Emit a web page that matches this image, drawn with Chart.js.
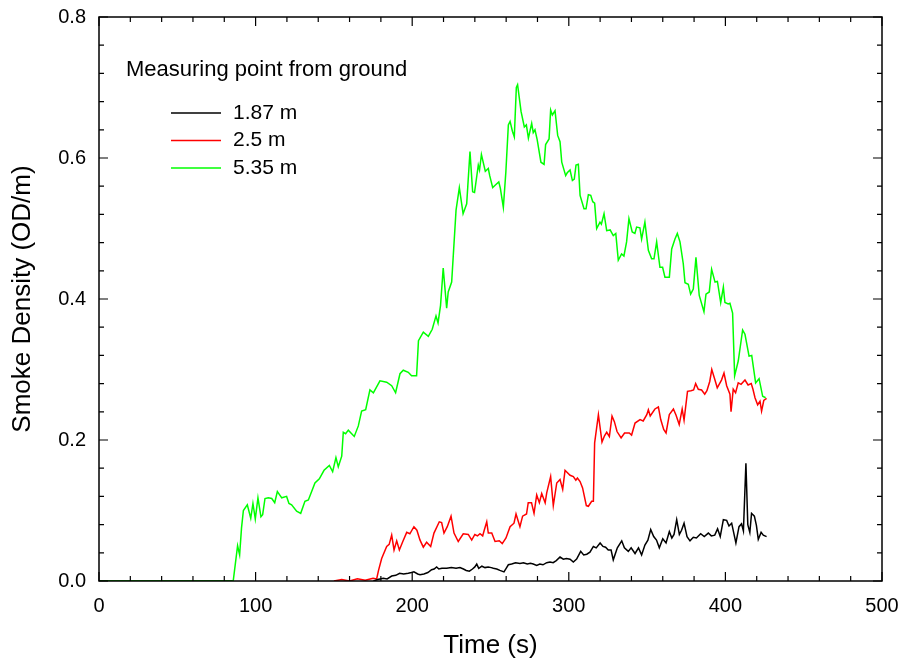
<!DOCTYPE html>
<html>
<head>
<meta charset="utf-8">
<script src="https://cdn.jsdelivr.net/npm/chart.js@4.4.1/dist/chart.umd.min.js"></script>
<style>
  html, body { margin: 0; padding: 0; background: #fff; }
  #wrap { width: 904px; height: 666px; }
</style>
</head>
<body>
<div id="wrap"><canvas id="smoke"></canvas></div>
<script>
// Smoke density readings, time in seconds
// 5.35 m sensor
const greenTime = [0, 85.7, 88.5, 89.8, 91, 92.2, 94.7, 96.9, 98.3, 99.8, 101.5, 103.4, 104.5, 106, 108.1, 110.3, 112.2, 113.9, 116.7, 119.8, 121.3, 123, 126.2, 128.8, 131.5, 133.7, 137.9, 140.7, 143.7, 147.1, 149.2, 151.3, 152.8, 155, 156, 157.5, 159.2, 163, 165.6, 167.7, 170.3, 173, 175.2, 179.4, 183.7, 186.9, 189.4, 192.2, 194.3, 197.5, 199.6, 202.8, 204, 207.1, 210.3, 212.8, 215.2, 216.5, 218.1, 219.8, 222, 223, 225.2, 228, 230.1, 232.5, 234.8, 235.5, 236.9, 238.6, 239.8, 242.2, 243, 244.2, 246.7, 248.6, 249.5, 251.4, 253.3, 255.3, 256.3, 258.2, 259.8, 261.4, 262.5, 264, 265.2, 266.5, 267.3, 269.5, 271.6, 272.9, 274.2, 276.3, 277.3, 278.4, 279.8, 282.2, 284.2, 285.2, 287.4, 288.4, 289.5, 291.2, 292.9, 294.4, 295.5, 298, 299, 300.8, 302.3, 303.5, 304.6, 306.1, 307.2, 309.7, 311, 312.5, 314, 315.3, 316.5, 317.8, 319.9, 320.8, 322.5, 324.2, 326.4, 328.4, 330, 331.6, 333.7, 335.2, 336.9, 338.4, 340.5, 342.2, 343.3, 345.4, 346.5, 348.6, 350.8, 352.9, 354.4, 356.1, 358.2, 359.9, 361.4, 364.2, 365.7, 367.8, 369.3, 371, 373.1, 374.2, 376.3, 377.8, 379.5, 381.2, 383.3, 386.3, 387.6, 389.7, 391.2, 393.4, 394.9, 397, 398.7, 399.7, 401.8, 402.9, 404.6, 405.9, 408.2, 411, 412.5, 415.1, 416.8, 419.3, 421.5, 423.8, 425.7];
const greenValue = [0, 0, 0.050, 0.037, 0.075, 0.100, 0.108, 0.089, 0.110, 0.088, 0.118, 0.091, 0.094, 0.117, 0.118, 0.117, 0.111, 0.127, 0.118, 0.120, 0.110, 0.108, 0.099, 0.096, 0.113, 0.115, 0.139, 0.145, 0.157, 0.164, 0.155, 0.175, 0.162, 0.177, 0.211, 0.209, 0.214, 0.205, 0.220, 0.241, 0.243, 0.271, 0.267, 0.284, 0.282, 0.277, 0.267, 0.294, 0.299, 0.296, 0.291, 0.291, 0.341, 0.353, 0.347, 0.357, 0.376, 0.366, 0.391, 0.444, 0.387, 0.410, 0.424, 0.526, 0.558, 0.521, 0.535, 0.560, 0.609, 0.552, 0.551, 0.590, 0.583, 0.605, 0.581, 0.585, 0.575, 0.558, 0.562, 0.566, 0.557, 0.530, 0.580, 0.647, 0.652, 0.638, 0.630, 0.700, 0.704, 0.666, 0.644, 0.647, 0.628, 0.649, 0.636, 0.640, 0.626, 0.594, 0.591, 0.619, 0.627, 0.668, 0.661, 0.667, 0.632, 0.623, 0.594, 0.575, 0.579, 0.583, 0.568, 0.570, 0.590, 0.591, 0.547, 0.528, 0.528, 0.548, 0.547, 0.538, 0.536, 0.500, 0.509, 0.506, 0.521, 0.497, 0.498, 0.490, 0.493, 0.455, 0.464, 0.461, 0.481, 0.514, 0.495, 0.493, 0.502, 0.501, 0.485, 0.509, 0.469, 0.457, 0.457, 0.481, 0.445, 0.445, 0.431, 0.431, 0.471, 0.485, 0.493, 0.481, 0.450, 0.423, 0.421, 0.407, 0.414, 0.459, 0.405, 0.382, 0.407, 0.410, 0.442, 0.424, 0.425, 0.395, 0.417, 0.395, 0.393, 0.394, 0.380, 0.291, 0.312, 0.356, 0.350, 0.319, 0.320, 0.281, 0.287, 0.262, 0.260];

// 2.5 m sensor (no readings logged between ~86 s and 150 s)
const redTime = [0, 85.7, 86, 150, 155, 160, 165, 170, 175, 177.3, 178.5, 180.5, 183.7, 185.3, 186.9, 188.4, 190.1, 191.8, 194, 196.5, 198.5, 201.1, 203, 205, 207.1, 209.2, 211.8, 213.9, 217.3, 218.8, 220.3, 222.4, 224.8, 226.7, 229.4, 232.6, 235.8, 238, 240, 241.7, 243.3, 245, 246, 247.6, 248.6, 250.8, 252.9, 255.6, 257.5, 259.9, 262.5, 265, 266.3, 268.8, 270.5, 273, 274.1, 276.2, 277.8, 279.5, 281.2, 282.7, 284.9, 285.9, 288.4, 290.1, 292.3, 294.4, 296.1, 297.6, 300.8, 302.9, 304.5, 305.5, 307.2, 308.8, 311.2, 312.5, 314.6, 315.7, 316.5, 318.9, 321.2, 322.8, 324.2, 325.9, 327.6, 329.1, 330.8, 333.4, 335.6, 338.6, 340.1, 342.3, 345.5, 347.5, 349.8, 350.8, 352, 355, 357.2, 358.7, 360.6, 362.1, 364.2, 366.8, 368.5, 370.5, 372.4, 373.6, 375.8, 378, 379.7, 381, 382.7, 384.8, 386.8, 388.2, 390, 391.3, 393.1, 394.8, 397.5, 399.1, 400.8, 402.9, 403.6, 405, 406.5, 408.2, 410, 412.5, 414.5, 416.5, 417.6, 418.9, 420.6, 422.1, 423.1, 424.5, 426.3];
const redValue = [0, 0, null, 0, 0.002, 0, 0.003, 0.001, 0.004, 0.003, 0.015, 0.032, 0.049, 0.052, 0.065, 0.044, 0.057, 0.044, 0.056, 0.069, 0.067, 0.077, 0.072, 0.058, 0.048, 0.055, 0.049, 0.068, 0.084, 0.083, 0.068, 0.077, 0.092, 0.068, 0.056, 0.067, 0.066, 0.058, 0.066, 0.064, 0.067, 0.064, 0.072, 0.084, 0.068, 0.068, 0.056, 0.057, 0.053, 0.061, 0.077, 0.082, 0.095, 0.077, 0.092, 0.095, 0.111, 0.111, 0.096, 0.122, 0.111, 0.124, 0.111, 0.125, 0.148, 0.107, 0.139, 0.144, 0.130, 0.157, 0.150, 0.148, 0.143, 0.146, 0.141, 0.132, 0.107, 0.106, 0.113, 0.113, 0.196, 0.236, 0.197, 0.206, 0.211, 0.205, 0.234, 0.226, 0.212, 0.203, 0.210, 0.210, 0.207, 0.224, 0.229, 0.227, 0.236, 0.243, 0.234, 0.244, 0.247, 0.229, 0.215, 0.210, 0.236, 0.244, 0.235, 0.222, 0.244, 0.228, 0.269, 0.270, 0.271, 0.280, 0.272, 0.271, 0.265, 0.270, 0.283, 0.300, 0.287, 0.274, 0.285, 0.295, 0.277, 0.265, 0.240, 0.272, 0.267, 0.281, 0.279, 0.285, 0.278, 0.280, 0.272, 0.260, 0.250, 0.255, 0.241, 0.256, 0.259];

// 1.87 m sensor (no readings logged between ~86 s and 175 s)
const blackTime = [0, 85.7, 86, 175.2, 178, 181.5, 184, 186.9, 189.5, 192, 194.5, 197.5, 199.5, 201.1, 203.5, 205, 207.5, 210, 212.4, 214, 215.6, 217, 219, 222, 225, 228, 230.5, 232.7, 234.5, 236.5, 238.5, 240, 241.2, 242.5, 244.5, 246.5, 248.5, 250.5, 251.8, 254, 256, 258.6, 260, 261.4, 263.5, 266, 268.8, 271, 273.5, 275.5, 277.3, 279.5, 281.5, 283.5, 285.9, 288, 290, 292, 294.4, 296.5, 298.5, 300.8, 302.9, 305, 307.6, 309.5, 311.5, 313.5, 315.7, 317.5, 320, 321.8, 323.5, 325.2, 327, 328.4, 331, 333.8, 335.5, 338, 339.8, 342.3, 344.5, 346.5, 348.6, 350.5, 352.3, 354.2, 356, 357.8, 360, 362.1, 364.2, 365.8, 367.2, 368.9, 370.6, 372, 373.6, 375.5, 377.4, 379.5, 381.5, 384.2, 386.5, 389.1, 391, 393.2, 395, 396.7, 398.7, 400.8, 402.3, 404, 406.7, 408.7, 410.3, 411.5, 413.1, 414.3, 415.6, 416.7, 418.5, 419.8, 421, 422.8, 424.2, 426.3];
const blackValue = [0, 0, null, 0, 0.002, 0.004, 0.003, 0.007, 0.008, 0.011, 0.010, 0.011, 0.012, 0.013, 0.010, 0.009, 0.010, 0.012, 0.016, 0.017, 0.020, 0.017, 0.018, 0.018, 0.019, 0.018, 0.019, 0.017, 0.015, 0.014, 0.017, 0.020, 0.024, 0.018, 0.021, 0.019, 0.020, 0.019, 0.018, 0.017, 0.015, 0.013, 0.018, 0.023, 0.024, 0.026, 0.025, 0.026, 0.024, 0.025, 0.024, 0.022, 0.024, 0.023, 0.026, 0.027, 0.026, 0.029, 0.034, 0.031, 0.032, 0.031, 0.027, 0.031, 0.042, 0.037, 0.038, 0.041, 0.049, 0.047, 0.054, 0.049, 0.048, 0.044, 0.044, 0.030, 0.047, 0.057, 0.047, 0.042, 0.047, 0.039, 0.047, 0.037, 0.051, 0.058, 0.073, 0.063, 0.058, 0.047, 0.060, 0.054, 0.070, 0.061, 0.066, 0.087, 0.066, 0.072, 0.082, 0.063, 0.057, 0.062, 0.061, 0.067, 0.063, 0.068, 0.064, 0.065, 0.074, 0.063, 0.087, 0.086, 0.078, 0.082, 0.054, 0.077, 0.081, 0.071, 0.167, 0.080, 0.069, 0.096, 0.092, 0.079, 0.059, 0.069, 0.065, 0.063];

const seriesLabels = ['1.87 m', '2.5 m', '5.35 m'];
const seriesColors = ['#000000', '#ff0000', '#00ff00'];
const legendTitle = 'Measuring point from ground';

const toPoints = (ts, vs) => ts.map((t, i) => ({ x: t, y: vs[i] }));

const FONT = 'Liberation Sans, Arial, sans-serif';

// frame with inward major/minor ticks on all four sides, plus the legend block
const framePlugin = {
  id: 'frame',
  afterDraw(chart) {
    const { ctx, chartArea: a, scales } = chart;
    const x = scales.x, y = scales.y;
    ctx.save();
    ctx.strokeStyle = '#000';
    ctx.lineWidth = 1.5;
    ctx.strokeRect(a.left, a.top, a.right - a.left, a.bottom - a.top);
    ctx.lineWidth = 1.2;
    ctx.beginPath();
    for (let t = 0; t <= 500; t += 20) {
      const px = x.getPixelForValue(t);
      const len = t % 100 === 0 ? 9 : 5;
      ctx.moveTo(px, a.bottom); ctx.lineTo(px, a.bottom - len);
      ctx.moveTo(px, a.top); ctx.lineTo(px, a.top + len);
    }
    for (let k = 0; k <= 20; k++) {
      const py = y.getPixelForValue(k * 0.04);
      const len = k % 5 === 0 ? 9 : 5;
      ctx.moveTo(a.left, py); ctx.lineTo(a.left + len, py);
      ctx.moveTo(a.right, py); ctx.lineTo(a.right - len, py);
    }
    ctx.stroke();

    ctx.fillStyle = '#000';
    ctx.textBaseline = 'middle';
    ctx.font = '22px ' + FONT;
    ctx.fillText(legendTitle, 126, 70);
    ctx.font = '21px ' + FONT;
    seriesLabels.forEach((lab, i) => {
      const ly = 113 + i * 27.5;
      ctx.strokeStyle = seriesColors[i];
      ctx.lineWidth = 1.5;
      ctx.beginPath();
      ctx.moveTo(171, ly); ctx.lineTo(221, ly);
      ctx.stroke();
      ctx.fillText(lab, 233, ly);
    });
    ctx.restore();
  }
};

const datasets = [
  { label: seriesLabels[2], data: toPoints(greenTime, greenValue), borderColor: seriesColors[2], order: 0 },
  { label: seriesLabels[0], data: toPoints(blackTime, blackValue), borderColor: seriesColors[0], order: 1 },
  { label: seriesLabels[1], data: toPoints(redTime, redValue), borderColor: seriesColors[1], order: 2 },
].map(d => Object.assign(d, { borderWidth: 1.5, pointRadius: 0, tension: 0, spanGaps: false, fill: false }));

new Chart(document.getElementById('smoke'), {
  type: 'line',
  data: { datasets },
  plugins: [framePlugin],
  options: {
    responsive: true,
    maintainAspectRatio: false,
    animation: false,
    layout: { padding: { top: 17, right: 22, left: 0, bottom: 0 } },
    plugins: { legend: { display: false }, tooltip: { enabled: false } },
    scales: {
      x: {
        type: 'linear',
        min: 0, max: 500,
        grid: { display: false, drawTicks: false },
        border: { display: false },
        ticks: { stepSize: 100, padding: 13, color: '#000', font: { family: FONT, size: 20 } },
        title: { display: true, text: 'Time (s)', color: '#000', font: { family: FONT, size: 26 }, padding: { top: 0, bottom: 5 } },
        afterFit(s) { s.height = 85; s.paddingLeft = 0; s.paddingRight = 0; }
      },
      y: {
        min: 0, max: 0.8,
        grid: { display: false, drawTicks: false },
        border: { display: false },
        ticks: { stepSize: 0.2, padding: 13, color: '#000', font: { family: FONT, size: 20 },
                 callback: v => v.toFixed(1) },
        title: { display: true, text: 'Smoke Density (OD/m)', color: '#000', font: { family: FONT, size: 26 }, padding: { top: 7, bottom: 0 } },
        afterFit(s) { s.width = 99; s.paddingTop = 0; s.paddingBottom = 0; }
      }
    }
  }
});
</script>
</body>
</html>
